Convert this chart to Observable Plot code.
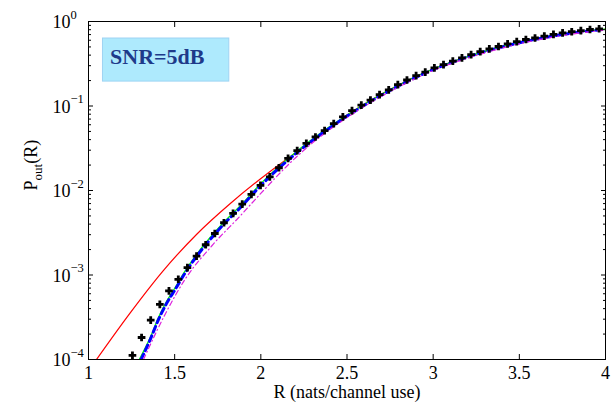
<!DOCTYPE html>
<html><head><meta charset="utf-8">
<script src="https://cdn.jsdelivr.net/npm/d3@7"></script>
<script src="https://cdn.jsdelivr.net/npm/@observablehq/plot@0.6"></script>
<style>html,body{margin:0;padding:0;background:#fff;}#chart{width:611px;height:405px;}</style>
</head><body><div id="chart"></div>
<script>
// ---- data ----
const markerR = [1.255,1.308,1.361,1.414,1.467,1.521,1.574,1.627,1.680,1.733,1.786,1.839,1.892,1.945,1.998,2.052,2.105,2.158,2.211,2.264,2.317,2.370,2.423,2.476,2.529,2.583,2.636,2.689,2.742,2.795,2.848,2.901,2.954,3.007,3.060,3.114,3.167,3.220,3.273,3.326,3.379,3.432,3.485,3.538,3.591,3.645,3.698,3.751,3.804,3.857,3.910,3.963];
const markerP = [1.12e-4,1.82e-4,2.92e-4,4.5e-4,6.5e-4,8.9e-4,1.22e-3,1.67e-3,2.28e-3,3.10e-3,4.15e-3,5.35e-3,6.9e-3,9.0e-3,1.15e-2,1.45e-2,1.86e-2,2.40e-2,2.96e-2,3.62e-2,4.3e-2,5.11e-2,6.2e-2,7.45e-2,8.8e-2,0.1025,0.1175,0.1365,0.155,0.179,0.203,0.229,0.252,0.283,0.309,0.339,0.371,0.406,0.441,0.475,0.506,0.544,0.579,0.612,0.638,0.670,0.705,0.735,0.757,0.778,0.804,0.820];

const redR = [1.0465,1.241,1.433,1.631,1.823,1.997,2.172,2.294,2.5,2.65,2.8,3.0,3.25,3.5,3.75,4.0];
const redP = [1.0e-4,3.54e-4,1.12e-3,3.08e-3,7.02e-3,1.37e-2,2.53e-2,3.78e-2,7.8e-2,0.121,0.177,0.274,0.412,0.564,0.702,0.811];

const greenR = [1.295,1.358,1.406,1.455,1.503,1.561,1.629,1.706,1.784,1.881,1.997,2.2,2.4,2.6,2.8,3.0,3.2,3.4,3.6,3.8,4.0];
const greenP = [1.0e-4,1.82e-4,3.13e-4,4.94e-4,7.11e-4,1.12e-3,1.77e-3,2.78e-3,4.19e-3,6.61e-3,1.19e-2,2.81e-2,5.70e-2,0.105,0.177,0.274,0.385,0.506,0.624,0.731,0.815];

const blueR = [1.305,1.358,1.406,1.455,1.503,1.561,1.629,1.706,1.784,1.881,1.997,2.2,2.4,2.6,2.8,3.0,3.2,3.4,3.6,3.8,4.0];
const blueP = [1.0e-4,1.72e-4,2.96e-4,4.68e-4,6.73e-4,1.06e-3,1.68e-3,2.63e-3,3.97e-3,6.26e-3,1.13e-2,2.70e-2,5.50e-2,0.102,0.173,0.269,0.380,0.500,0.619,0.726,0.812];

const magentaR = [1.319,1.445,1.561,1.716,1.881,1.997,2.19,2.28,2.5,2.65,2.8,3.0,3.25,3.5,3.75,4.0];
const magentaP = [1.0e-4,3.44e-4,8.93e-4,2.22e-3,5.02e-3,9.10e-3,2.32e-2,3.39e-2,7.29e-2,0.114,0.168,0.263,0.396,0.544,0.683,0.793];

const xTicks = [1,1.5,2,2.5,3,3.5,4];
const xTickLabels = ["1","1.5","2","2.5","3","3.5","4"];
const yTicks = [1e-4,1e-3,1e-2,1e-1,1];
const yTickBase = "10";
const yTickExponents = ["\u22124","\u22123","\u22122","\u22121","0"];
const xLabel = "R (nats/channel use)";
const yLabelMain = "P";
const yLabelSub = "out";
const yLabelTail = "(R)";
const annotText = "SNR=5dB";

// ---- build tables ----
const zip = (xs, ys) => xs.map((R, i) => ({R, P: ys[i]}));
const markers = zip(markerR, markerP);
const red = zip(redR, redP);
const green = zip(greenR, greenP);
const blue = zip(blueR, blueP);
const magenta = zip(magentaR, magentaP);
const minorTicks = [];
for (let e = -4; e < 0; e++) for (let m = 2; m <= 9; m++) minorTicks.push(m * Math.pow(10, e));

// annotation box (data coordinates)
const annot = {x1: 1.084, x2: 1.817, y1: 0.1945, y2: 0.629, tx: 1.125, ty: 0.3776, label: annotText};

const font = "'Liberation Serif', 'Times New Roman', serif";
const chart = Plot.plot({
  width: 611, height: 405,
  marginLeft: 88, marginRight: 6, marginTop: 21, marginBottom: 46,
  style: {fontFamily: font, fontSize: "18px", background: "white", color: "black", overflow: "visible"},
  x: {type: "linear", domain: [1, 4]},
  y: {type: "log", domain: [1e-4, 1]},
  marks: [
    Plot.rect([annot], {x1: "x1", x2: "x2", y1: "y1", y2: "y2", fill: "#aeeafd", stroke: "#9fd3f3", strokeWidth: 1}),
    Plot.text([annot], {x: "tx", y: "ty", text: "label", textAnchor: "start", fontWeight: "bold", fontSize: 22, fill: "#1e3a8a"}),
    Plot.line(red, {x: "R", y: "P", stroke: "#ff0000", strokeWidth: 1.2, curve: "monotone-x", clip: true}),
    Plot.line(green, {x: "R", y: "P", stroke: "#00ff00", strokeWidth: 1.3, curve: "monotone-x", clip: true}),
    Plot.line(blue, {x: "R", y: "P", stroke: "#0000ff", strokeWidth: 3, strokeDasharray: "6,4", curve: "monotone-x", clip: true}),
    Plot.line(magenta, {x: "R", y: "P", stroke: "#dd22dd", strokeWidth: 1.2, strokeDasharray: "5,3,1,3", curve: "monotone-x", clip: true}),
    Plot.dot(markers, {x: "R", y: "P", symbol: "plus", r: 2.6, stroke: "black", strokeWidth: 2.8}),
    // inward ticks
    Plot.axisX({anchor: "bottom", ticks: xTicks, tickSize: -5, fill: "none", label: null}),
    Plot.axisX({anchor: "top", ticks: xTicks, tickSize: -5, fill: "none", label: null}),
    Plot.axisY({anchor: "left", ticks: yTicks, tickSize: -5, fill: "none", label: null}),
    Plot.axisY({anchor: "right", ticks: yTicks, tickSize: -5, fill: "none", label: null}),
    Plot.axisY({anchor: "left", ticks: minorTicks, tickSize: -3, fill: "none", label: null}),
    Plot.axisY({anchor: "right", ticks: minorTicks, tickSize: -3, fill: "none", label: null}),
    // tick labels
    Plot.axisX({anchor: "bottom", ticks: xTicks, tickSize: 0, tickPadding: 7, tickFormat: d => xTickLabels[xTicks.indexOf(d)], label: null, fontSize: 18}),
    Plot.text(yTicks, {y: d => d, frameAnchor: "left", text: () => yTickBase, textAnchor: "start", lineAnchor: "middle", dx: -36, dy: 1, fontSize: 18}),
    Plot.text(yTicks, {y: d => d, frameAnchor: "left", text: d => yTickExponents[yTicks.indexOf(d)], textAnchor: "start", lineAnchor: "middle", dx: -18, dy: -7, fontSize: 12.5}),
    // axis labels
    Plot.text([xLabel], {frameAnchor: "bottom", text: d => d, lineAnchor: "middle", dy: 33, fontSize: 18}),
    Plot.text([yLabelMain + yLabelTail], {frameAnchor: "left", text: d => d, lineAnchor: "middle", dx: -57, rotate: -90, fontSize: 18}),
    Plot.frame({stroke: "black", strokeWidth: 1})
  ]
});
document.getElementById("chart").appendChild(chart);

// subscript in the y label
for (const yl of chart.querySelectorAll("text")) {
  if (yl.textContent === yLabelMain + yLabelTail) {
    yl.textContent = "";
    const ns = "http://www.w3.org/2000/svg";
    const t1 = document.createElementNS(ns, "tspan"); t1.textContent = yLabelMain;
    const t2 = document.createElementNS(ns, "tspan"); t2.textContent = yLabelSub; t2.setAttribute("font-size", "13"); t2.setAttribute("dy", "5");
    const t3 = document.createElementNS(ns, "tspan"); t3.textContent = yLabelTail; t3.setAttribute("dy", "-5");
    yl.append(t1, t2, t3);
  }
}
</script>
</body></html>
